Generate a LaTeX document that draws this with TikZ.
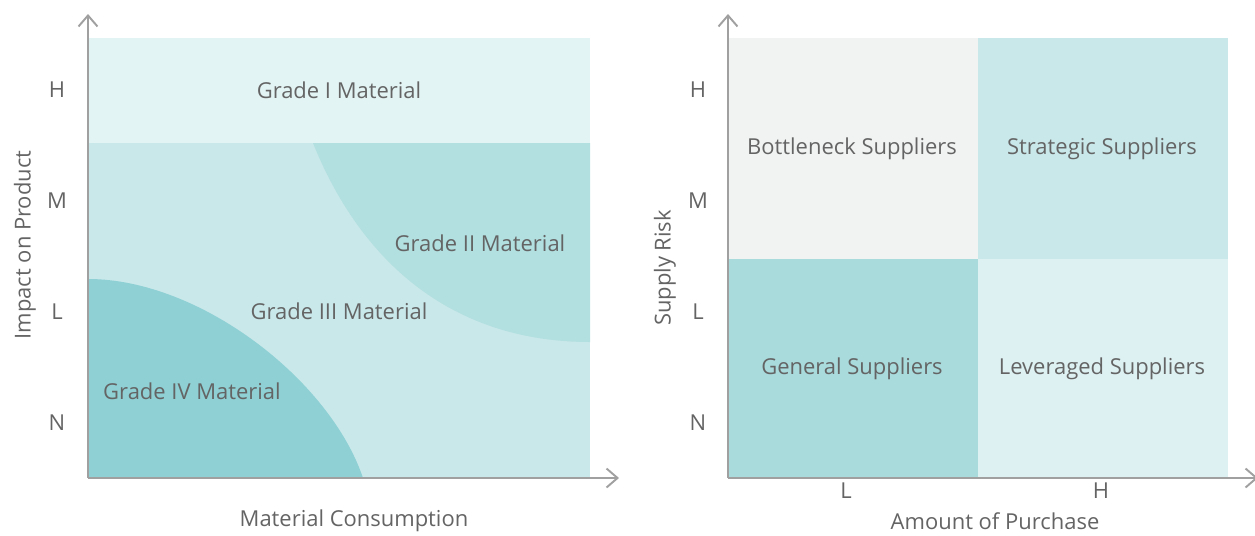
\documentclass[tikz,border=0pt]{standalone}
\usepackage{fontspec}
\setmainfont{Open Sans}
\usepackage{tikz}
\usetikzlibrary{
    positioning,
    arrows.meta
}
\definecolor{axisGray}{RGB}{160, 160, 160}
\definecolor{textGray}{RGB}{100, 100, 100}
\definecolor{gradeOne}{RGB}{227, 244, 244}
\definecolor{gradeTwo}{RGB}{178, 223, 224}
\definecolor{gradeThree}{RGB}{201, 232, 234}
\definecolor{gradeFour}{RGB}{142, 208, 212}
\definecolor{bottleGray}{RGB}{241, 242, 242}
\definecolor{strategTeal}{RGB}{201, 232, 234}
\definecolor{generalTeal}{RGB}{169, 218, 220}
\definecolor{leverTeal}{RGB}{221, 240, 242}

\begin{document}
\begin{tikzpicture}[x=0.02cm, y=-0.02cm, >={Straight Barb[length=2.2mm, width=3.8mm]}]
        \tikzset{
            axis/.style={->, axisGray, line width=1.1pt},
            lbl/.style={text=textGray, font=\fontsize{12.5}{14}\selectfont, inner sep=0pt}
        }
        \useasboundingbox (0,0) rectangle (1255,535);

        \coordinate (O1) at (88, 478);
        \coordinate (Y1) at (88, 14);
        \coordinate (X1) at (619, 478);
        \coordinate (O2) at (728, 478);
        \coordinate (Y2) at (728, 14);
        \coordinate (X2) at (1258, 478);

        % Left chart regions
        \fill[gradeOne] (88, 38) rectangle (590, 143);
        \fill[gradeThree] (88, 143) rectangle (590, 478);
        \fill[gradeTwo] (313, 143) .. controls (360, 260) and (450, 342) .. (590, 342) -- (590, 143) -- cycle;
        \fill[gradeFour] (88, 279) .. controls (200, 279) and (330, 380) .. (363, 478) -- (88, 478) -- cycle;

        % Right chart quadrants
        \fill[bottleGray] (728, 38) rectangle (978, 259);
        \fill[strategTeal] (978, 38) rectangle (1228, 259);
        \fill[generalTeal] (728, 259) rectangle (978, 478);
        \fill[leverTeal] (978, 259) rectangle (1228, 478);

        % Axes
        \draw[axis] (O1) -- (Y1);
        \draw[axis] (O1) -- (X1);
        \draw[axis] (O2) -- (Y2);
        \draw[axis] (O2) -- (X2);

        % Region labels
        \node[lbl] (gradeI) at (339, 90) {Grade I Material};
        \node[lbl] (gradeII) at (480, 243) {Grade II Material};
        \node[lbl] (gradeIII) at (339, 311) {Grade III Material};
        \node[lbl] (gradeIV) at (192, 391) {Grade IV Material};
        \node[lbl] (bottle) at (852, 149) {Bottleneck Suppliers};
        \node[lbl] (strateg) at (1102, 149) {Strategic Suppliers};
        \node[lbl] (general) at (852, 369) {General Suppliers};
        \node[lbl] (lever) at (1102, 369) {Leveraged Suppliers};

        % Ticks
        \node[lbl] (lH) at (57, 90) {H};
        \node[lbl] (lM) at (57, 201) {M};
        \node[lbl] (lL) at (57, 312) {L};
        \node[lbl] (lN) at (57, 423) {N};
        \node[lbl] (rH) at (698, 90) {H};
        \node[lbl] (rM) at (698, 201) {M};
        \node[lbl] (rL) at (698, 312) {L};
        \node[lbl] (rN) at (698, 423) {N};
        \node[lbl] (bL) at (846, 491) {L};
        \node[lbl] (bH) at (1101, 491) {H};

        % Axis titles
        \node[lbl, rotate=90] (impact) at (25, 245) {Impact on Product};
        \node[lbl] (consum) at (354, 521) {Material Consumption};
        \node[lbl, rotate=90] (risk) at (665, 268) {Supply Risk};
        \node[lbl] (amount) at (995, 521) {Amount of Purchase};
    \end{tikzpicture}
\end{document}
